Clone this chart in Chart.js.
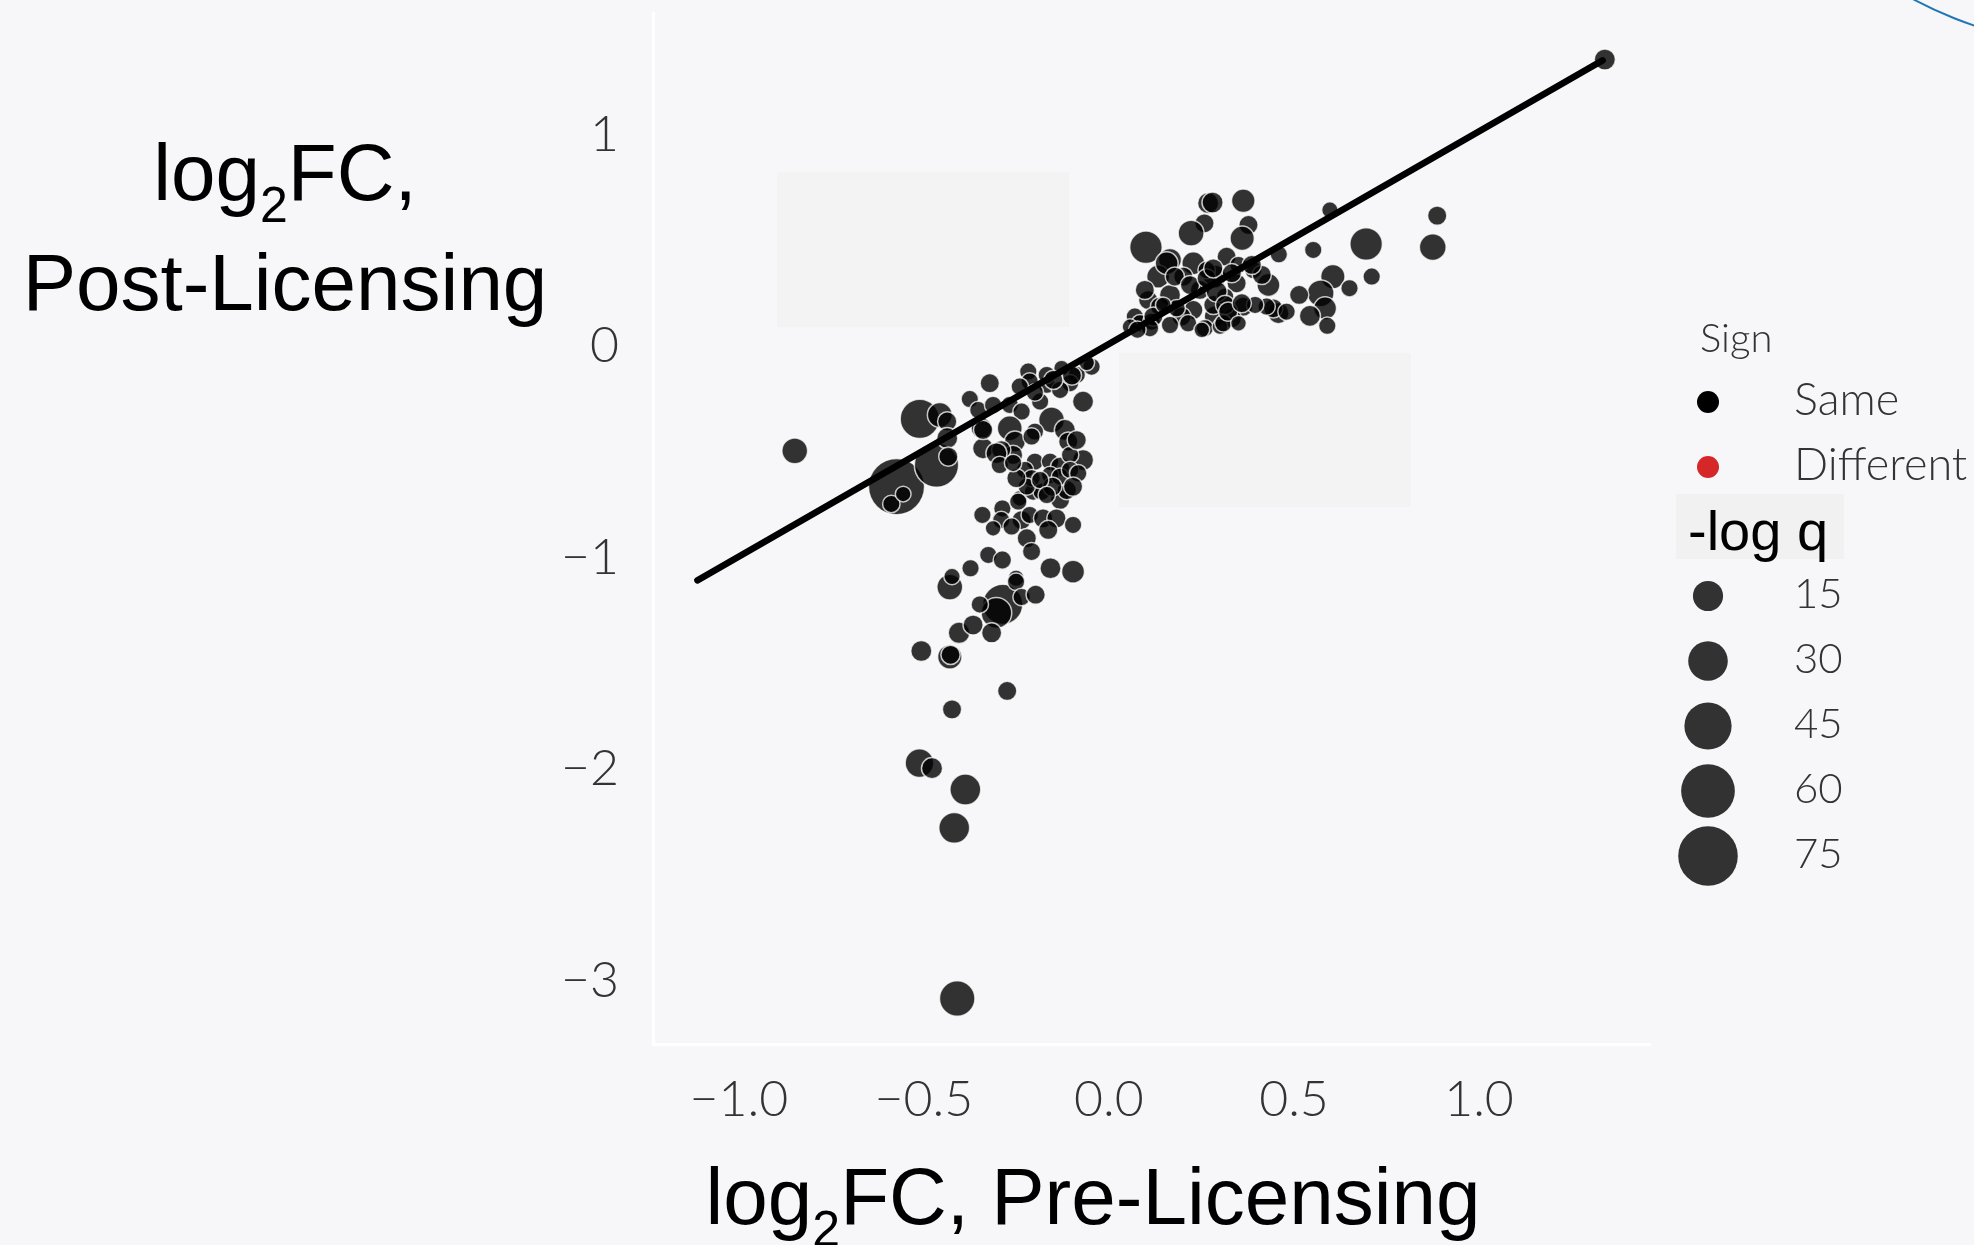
<!DOCTYPE html>
<html>
<head>
<meta charset="utf-8">
<script src="https://cdn.jsdelivr.net/npm/chart.js@4.4.1/dist/chart.umd.min.js"></script>
<style>
  html, body { margin: 0; padding: 0; background: #f7f7f9; }
  #wrap { width: 1974px; height: 1245px; }
</style>
</head>
<body>
<div id="wrap"><canvas id="chart" width="1974" height="1245"></canvas></div>
<script>
// log2 fold change before licensing (x) and after licensing (y), with -log q
const preFC = [
  1.34, -0.849, -0.41, -0.418, -0.388, -0.512, -0.478, -0.424, -0.275, -0.507, -0.43, -0.428,
  -0.574, -0.588, -0.556, -0.466, -0.511, -0.457, -0.437, -0.437, -0.434, -0.376, -0.322, -0.353,
  -0.344, -0.34, -0.313, -0.268, -0.236, -0.218, -0.214, -0.241, -0.168, -0.168, -0.128, -0.047,
  -0.087, -0.105, -0.132, -0.07, -0.186, -0.155, -0.268, -0.2, -0.119, -0.34, -0.254, -0.259,
  -0.291, -0.304, -0.2, -0.159, -0.11, -0.07, -0.132, -0.105, -0.295, -0.227, -0.209, -0.087,
  -0.241, -0.205, -0.182, -0.132, -0.114, -0.209, -0.222, -0.159, -0.132, -0.105, -0.083, -0.25,
  -0.259, -0.097, -0.153, -0.186, -0.168, -0.342, -0.288, -0.291, -0.245, -0.236, -0.214, -0.222,
  -0.178, -0.142, -0.164, -0.097, -0.263, -0.313, -0.326, -0.288, -0.374, -0.158, -0.097, -0.251,
  -0.209, -0.43, -0.424, -0.287, -0.304, -0.349, -0.251, -0.236, -0.198, -0.405, -0.367, -0.317,
  -0.15, -0.10, -0.06, -0.2,
  0.1, 0.268, 0.28, 0.363, 0.258, 0.222, 0.377, 0.36, 0.597, 0.695, 0.887, 0.875,
  0.552, 0.71, 0.605, 0.65, 0.572, 0.514, 0.584, 0.543, 0.59, 0.459, 0.431, 0.458,
  0.444, 0.426, 0.39, 0.363, 0.318, 0.345, 0.286, 0.286, 0.332, 0.259, 0.228, 0.165,
  0.133, 0.106, 0.097, 0.201, 0.246, 0.228, 0.165, 0.196, 0.165, 0.138, 0.07, 0.084,
  0.057, 0.115, 0.214, 0.282, 0.314, 0.395, 0.413, 0.264, 0.35, 0.3, 0.48, 0.156,
  0.178, 0.12, 0.219, 0.183, 0.147, 0.291, 0.264, 0.282, 0.332, 0.314, 0.111, 0.251,
  0.309, 0.322, 0.386, 0.359, 0.35, 0.077
];
const postFC = [
  1.354, -0.496, -3.085, -2.278, -2.097, -1.972, -1.996, -1.718, -1.631, -1.442, -1.47, -1.46,
  -0.665, -0.747, -0.7, -0.563, -0.345, -0.326, -0.357, -0.436, -0.523, -0.251, -0.176, -0.303,
  -0.389, -0.484, -0.279, -0.279, -0.31, -0.121, -0.168, -0.192, -0.184, -0.137, -0.105, -0.098,
  -0.137, -0.176, -0.208, -0.263, -0.263, -0.35, -0.389, -0.405, -0.397, -0.397, -0.452, -0.515,
  -0.492, -0.507, -0.547, -0.547, -0.452, -0.539, -0.571, -0.515, -0.563, -0.586, -0.428, -0.445,
  -0.72, -0.689, -0.689, -0.728, -0.681, -0.625, -0.665, -0.61, -0.618, -0.586, -0.602, -0.625,
  -0.553, -0.665, -0.665, -0.634, -0.705, -0.799, -0.768, -0.823, -0.736, -0.823, -0.799, -0.909,
  -0.815, -0.815, -0.87, -0.846, -0.854, -0.862, -0.988, -1.012, -1.051, -1.051, -1.067, -1.098,
  -0.972, -1.14, -1.09, -1.222, -1.262, -1.222, -1.115, -1.187, -1.176, -1.356, -1.319, -1.356,
  -0.16, -0.14, -0.08, -0.22,
  0.467, 0.675, 0.678, 0.686, 0.58, 0.533, 0.572, 0.509, 0.643, 0.482, 0.616, 0.467,
  0.454, 0.328, 0.328, 0.273, 0.249, 0.241, 0.178, 0.142, 0.095, 0.433, 0.288, 0.155,
  0.178, 0.186, 0.359, 0.186, 0.422, 0.296, 0.328, 0.139, 0.131, 0.084, 0.391, 0.407,
  0.328, 0.217, 0.265, 0.328, 0.265, 0.17, 0.241, 0.139, 0.099, 0.186, 0.139, 0.107,
  0.091, 0.115, 0.107, 0.194, 0.233, 0.194, 0.336, 0.359, 0.383, 0.091, 0.162, 0.391,
  0.328, 0.139, 0.288, 0.178, 0.194, 0.257, 0.32, 0.367, 0.344, 0.194, 0.084, 0.076,
  0.107, 0.162, 0.383, 0.202, 0.107, 0.077
];
const negLogQ = [
  4.5, 9.5, 23, 16, 16, 13, 4.5, 2.8, 2.8, 4.5, 7.8, 2.8,
  66, 1.3, 0, 39, 29.5, 8.4, 2.8, 4.5, 2.8, 1.3, 2.8, 1.3,
  4.5, 4.5, 1.3, 1.3, 1.3, 1.3, 1.3, 1.3, 1.3, 1.3, 0, 1.3,
  1.3, 1.3, 1.3, 4.5, 1.3, 9.5, 8.4, 1.3, 4.5, 2.8, 4.5, 2.8,
  2.8, 4.5, 1.3, 1.3, 2.8, 4.5, 2.8, 1.3, 1.3, 1.3, 1.3, 2.8,
  0, 1.3, 1.3, 2.8, 2.8, 1.3, 1.3, 1.3, 1.3, 1.3, 1.3, 2.8,
  1.3, 2.8, 2.8, 1.3, 1.3, 1.3, 1.3, 1.3, 1.3, 2.8, 1.3, 2.8,
  2.8, 2.8, 2.8, 1.3, 1.3, 0, 1.3, 2, 1.3, 4.5, 6.3, 0.5,
  2, 9.5, 0.5, 31, 15.6, 1.3, 1.3, 1.3, 2.8, 5, 3.6, 3.6,
  2.8, 2.8, 0, 1.3,
  18.4, 4.5, 4.5, 6.9, 2.8, 9.5, 2.8, 7.8, 0.5, 18.4, 2.8, 10.6,
  1.3, 1.3, 7.8, 1.3, 10.6, 2.8, 6.3, 4.5, 1.3, 1.3, 6.3, 4.5,
  2.8, 1.3, 1.3, 2.8, 2.8, 2.8, 6.3, 4.5, 2.8, 1.3, 6.3, 6.3,
  6.3, 2.8, 2.8, 2.8, 2.8, 2.8, 4.5, 2.8, 1.3, 2.8, 1.3, 1.3,
  0, 1.3, 1.3, 2.8, 1.3, 1.3, 2.8, 1.3, 1.3, 0, 1.3, 6.3,
  2.8, 2.8, 2.8, 1.3, 0, 4.5, 2.8, 2.8, 2.8, 2.8, 1.3, 0,
  1.3, 2.8, 2.8, 2.8, 0, 1.3
];

// fitted line end points
const fitX = [-1.112, 1.334];
const fitY = [-1.108, 1.350];

const xTicks = [-1, -0.5, 0, 0.5, 1];
const yTicks = [-3, -2, -1, 0, 1];

const signLabels = ['Same', 'Different'];
const signColors = ['#000000', '#d62728'];
const sizeLegend = [15, 30, 45, 60, 75];

// area of a marker grows linearly with -log q
function sizeFor(q) {
    return Math.sqrt(62 + 11 * q);
}

function minusSign(s) {
    return s.replace('-', '\u2212');
}

const TITLE_FONT = '"Liberation Sans", Arial, sans-serif';
const TICK_FONT = 'Lato, "DejaVu Sans", sans-serif';

// draws "log" + subscript 2 + rest, centred at cx
function drawLog2(ctx, rest, cx, baseline) {
    const big = '80px ' + TITLE_FONT;
    const small = '50px ' + TITLE_FONT;
    ctx.font = big;
    const w1 = ctx.measureText('log').width;
    const w3 = ctx.measureText(rest).width;
    ctx.font = small;
    const w2 = ctx.measureText('2').width;
    let x = cx - (w1 + w2 + w3) / 2;
    ctx.textAlign = 'left';
    ctx.textBaseline = 'alphabetic';
    ctx.fillStyle = '#000';
    ctx.font = big;
    ctx.fillText('log', x, baseline);
    x += w1;
    ctx.font = small;
    ctx.fillText('2', x, baseline + 22);
    x += w2;
    ctx.font = big;
    ctx.fillText(rest, x, baseline);
}

const decor = {
    id: 'decor',
    beforeDraw(chart) {
        const ctx = chart.ctx;
        ctx.save();
        ctx.fillStyle = '#f7f7f9';
        ctx.fillRect(0, 0, chart.width, chart.height);
        ctx.fillStyle = '#f3f3f3';
        ctx.fillRect(777, 172, 292, 155);
        ctx.fillRect(1119, 353, 292, 154);
        ctx.restore();
    },
    afterDraw(chart) {
        const ctx = chart.ctx;
        ctx.save();

        // axis titles
        drawLog2(ctx, 'FC,', 285, 200);
        ctx.font = '80px ' + TITLE_FONT;
        ctx.textAlign = 'center';
        ctx.fillText('Post-Licensing', 285, 310);
        drawLog2(ctx, 'FC, Pre-Licensing', 1093, 1224);

        // legend: sign
        ctx.textAlign = 'left';
        ctx.textBaseline = 'alphabetic';
        ctx.fillStyle = '#333';
        ctx.font = '300 40px ' + TICK_FONT;
        ctx.fillText('Sign', 1700, 352);
        ctx.font = '300 45px ' + TICK_FONT;
        signLabels.forEach((lab, i) => {
            const cy = 402 + i * 65;
            ctx.fillStyle = signColors[i];
            ctx.beginPath();
            ctx.arc(1708, cy, 11, 0, Math.PI * 2);
            ctx.fill();
            ctx.fillStyle = '#333';
            ctx.fillText(lab, 1794, cy + 13);
        });

        // legend: size
        ctx.fillStyle = '#f1f1f2';
        ctx.fillRect(1676, 494, 168, 65);
        ctx.fillStyle = '#000';
        ctx.font = '56px ' + TITLE_FONT;
        ctx.fillText('-log q', 1688, 550);
        ctx.font = '300 42px ' + TICK_FONT;
        sizeLegend.forEach((v, i) => {
            const cy = 596 + i * 65;
            ctx.fillStyle = 'rgba(0,0,0,0.8)';
            ctx.beginPath();
            ctx.arc(1708, cy, sizeFor(v), 0, Math.PI * 2);
            ctx.fill();
            ctx.fillStyle = '#333';
            ctx.fillText(String(v), 1794, cy + 12);
        });

        // stray arc in the top right corner
        ctx.strokeStyle = '#1f77b4';
        ctx.lineWidth = 2;
        ctx.beginPath();
        ctx.arc(2100, -350, 396, 0, Math.PI);
        ctx.stroke();

        ctx.restore();
    }
};

const points = preFC.map((x, i) => ({ x: x, y: postFC[i], r: sizeFor(negLogQ[i]) }));
const fitLine = fitX.map((x, i) => ({ x: x, y: fitY[i] }));

new Chart(document.getElementById('chart'), {
    type: 'bubble',
    data: {
        datasets: [
            {
                type: 'line',
                data: fitLine,
                borderColor: '#000',
                borderWidth: 6.5,
                borderCapStyle: 'round',
                pointRadius: 0,
                order: 0,
            },
            {
                data: points,
                backgroundColor: 'rgba(0,0,0,0.8)',
                borderColor: 'rgba(255,255,255,0.75)',
                borderWidth: 1.5,
                order: 1,
            }
        ]
    },
    options: {
        responsive: false,
        animation: false,
        events: [],
        layout: { autoPadding: false, padding: { left: 0, right: 324, top: 13, bottom: 0 } },
        plugins: {
            legend: { display: false },
            tooltip: { enabled: false },
        },
        scales: {
            x: {
                type: 'linear',
                min: -1.232,
                max: 1.462,
                grid: { display: false, drawTicks: false },
                border: { color: '#ffffff', width: 3 },
                afterBuildTicks: s => { s.ticks = xTicks.map(v => ({ value: v })); },
                afterFit: s => { s.height = 201; s.paddingLeft = 0; s.paddingRight = 0; },
                ticks: {
                    padding: 26,
                    color: '#333',
                    font: { family: TICK_FONT, size: 50, weight: '300' },
                    maxRotation: 0,
                    callback: v => minusSign(v.toFixed(1)),
                },
            },
            y: {
                type: 'linear',
                min: -3.30,
                max: 1.574,
                grid: { display: false, drawTicks: false },
                border: { color: '#ffffff', width: 3 },
                afterBuildTicks: s => { s.ticks = yTicks.map(v => ({ value: v })); },
                afterFit: s => { s.width = 653; s.paddingTop = 0; s.paddingBottom = 0; },
                ticks: {
                    padding: 34,
                    color: '#333',
                    font: { family: TICK_FONT, size: 50, weight: '300' },
                    callback: v => minusSign(String(v)),
                },
            },
        },
    },
    plugins: [decor],
});
</script>
</body>
</html>
